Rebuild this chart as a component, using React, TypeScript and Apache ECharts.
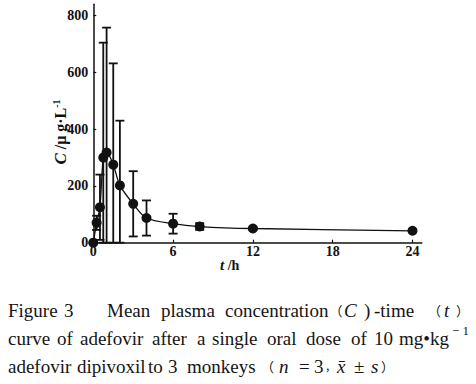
import React, { useEffect, useRef } from "react";
import * as echarts from "echarts";

// ---- data ----
const times = [0, 0.25, 0.5, 0.75, 1, 1.5, 2, 3, 4, 6, 8, 12, 24];
const meanC = [0, 70, 125, 300, 318, 275, 202, 137, 87, 67, 57, 50, 42];
const sdC = [0, 25, 115, 405, 440, 357, 228, 115, 62, 35, 12, 4, 4];
const xTicks = [0, 6, 12, 18, 24];
const yTicks = [0, 200, 400, 600, 800];

const SERIF = "'Liberation Serif', 'Times New Roman', 'DejaVu Serif', serif";
const CJK = "'Noto Sans CJK SC', 'Liberation Serif', serif";

// caption words: [text, left x, line index, italic, font size]
const captionWords: [string, number, number, boolean, number][] = [
  ["Figure", 8, 0, false, 19],
  ["3", 64, 0, false, 19],
  ["Mean", 107, 0, false, 19],
  ["plasma", 161, 0, false, 19],
  ["concentration", 225, 0, false, 19],
  ["（", 329.5, 0, false, 13],
  ["C", 344, 0, true, 19],
  [")", 364, 0, false, 19],
  ["-time", 374, 0, false, 19],
  ["（", 428, 0, false, 13],
  ["t", 444, 0, true, 19],
  ["）", 456, 0, false, 13],
  ["curve", 8, 1, false, 19],
  ["of", 57, 1, false, 19],
  ["adefovir", 80, 1, false, 19],
  ["after", 152, 1, false, 19],
  ["a", 197, 1, false, 19],
  ["single", 212, 1, false, 19],
  ["oral", 267, 1, false, 19],
  ["dose", 306, 1, false, 19],
  ["of", 351, 1, false, 19],
  ["10", 374, 1, false, 19],
  ["mg•kg", 399, 1, false, 19],
  ["adefovir", 8, 2, false, 19],
  ["dipivoxil", 77, 2, false, 19],
  ["to", 148, 2, false, 19],
  ["3", 168, 2, false, 19],
  ["monkeys", 187, 2, false, 19],
  ["（", 261, 2, false, 13],
  ["n", 279, 2, true, 19],
  ["=", 299, 2, false, 19],
  ["3", 314, 2, false, 19],
  ["，", 325, 2, false, 11],
  ["x̄", 337, 2, true, 19],
  ["±", 354, 2, false, 19],
  ["s", 371, 2, true, 19],
  ["）", 381, 2, false, 13],
];
const lineY = [310.5, 338, 366];

export default function App() {
  const ref = useRef<HTMLDivElement>(null);
  useEffect(() => {
    if (!ref.current) return;
    const chart = echarts.init(ref.current, null, { renderer: "svg" });
    const errData = times.map((t, i) => [t, Math.max(0, meanC[i] - sdC[i]), meanC[i] + sdC[i]]);
    const lineData = times.map((t, i) => [t, meanC[i]]);

    const graphics: any[] = captionWords.map(([txt, x, li, it, fs]) => ({
      type: "text",
      x,
      y: lineY[li],
      style: {
        text: txt,
        font: `${it ? "italic " : ""}${fs}px ${/[（），]/.test(txt) ? CJK : SERIF}`,
        fill: "#151515",
        verticalAlign: "middle",
        align: "left",
      },
    }));
    graphics.push({
      type: "text",
      x: 452,
      y: 330,
      style: { text: "− 1", font: `13px ${SERIF}`, fill: "#151515", verticalAlign: "middle" },
    });
    // y axis name
    graphics.push({
      type: "text",
      x: 60,
      y: 132,
      rotation: Math.PI / 2,
      style: {
        text: "{i|C} /μ g·L{s|-1}",
        align: "center",
        verticalAlign: "middle",
        fill: "#111",
        rich: {
          i: { fontFamily: SERIF, fontStyle: "italic", fontWeight: "bold", fontSize: 17, lineHeight: 18 },
          s: { fontFamily: SERIF, fontWeight: "bold", fontSize: 10, verticalAlign: "top", lineHeight: 18 },
        },
        font: `bold 16px ${SERIF}`,
      },
    });
    // x axis name
    graphics.push({
      type: "text",
      x: 220,
      y: 265,
      style: {
        text: "{i|t} /h",
        verticalAlign: "middle",
        fill: "#111",
        font: `bold 14px ${SERIF}`,
        rich: { i: { fontFamily: SERIF, fontStyle: "italic", fontWeight: "bold", fontSize: 15 } },
      },
    });

    chart.setOption({
      animation: false,
      grid: { left: 93.3, right: 54.2, top: 4.35, bottom: 141.3 },
      xAxis: {
        type: "value",
        min: 0,
        max: 24.7,
        interval: 6,
        splitLine: { show: false },
        axisLine: { lineStyle: { color: "#111", width: 1.5 } },
        axisTick: { inside: true, length: 3, lineStyle: { color: "#111", width: 1.2 }, customValues: xTicks },
        axisLabel: {
          customValues: xTicks,
          formatter: (v: number) => (xTicks.includes(v) ? String(v) : ""),
          color: "#111",
          fontFamily: SERIF,
          fontWeight: "bold",
          fontSize: 14,
          margin: 2,
        },
      },
      yAxis: {
        type: "value",
        min: 0,
        max: 840,
        interval: 200,
        splitLine: { show: false },
        axisLine: { show: true, lineStyle: { color: "#111", width: 1.5 } },
        axisTick: { show: true, inside: true, length: 3, lineStyle: { color: "#111", width: 1.2 }, customValues: yTicks },
        axisLabel: {
          customValues: yTicks,
          formatter: (v: number) => (yTicks.includes(v) ? String(v) : ""),
          color: "#111",
          fontFamily: SERIF,
          fontWeight: "bold",
          fontSize: 14,
          margin: 5,
        },
      },
      series: [
        {
          type: "custom",
          data: errData,
          encode: { x: 0, y: [1, 2] },
          z: 2,
          renderItem: (params: any, api: any) => {
            const t = api.value(0);
            const lo = api.coord([t, api.value(1)]);
            const hi = api.coord([t, api.value(2)]);
            const w = 4.5;
            const st = { stroke: "#111", lineWidth: 1.8 };
            return {
              type: "group",
              children: [
                { type: "line", shape: { x1: hi[0], y1: hi[1], x2: lo[0], y2: lo[1] }, style: st },
                { type: "line", shape: { x1: hi[0] - w, y1: hi[1], x2: hi[0] + w, y2: hi[1] }, style: st },
                { type: "line", shape: { x1: lo[0] - w, y1: lo[1], x2: lo[0] + w, y2: lo[1] }, style: st },
              ],
            };
          },
        },
        {
          type: "line",
          data: lineData,
          smooth: 0.3,
          symbol: "circle",
          symbolSize: 10,
          z: 3,
          itemStyle: { color: "#111" },
          lineStyle: { color: "#111", width: 1.3 },
        },
      ],
      graphic: graphics,
    });
    return () => chart.dispose();
  }, []);
  return (
    <div
      ref={ref}
      style={{ position: "fixed", left: 0, top: 0, width: 476, height: 384, background: "#fff" }}
    />
  );
}
